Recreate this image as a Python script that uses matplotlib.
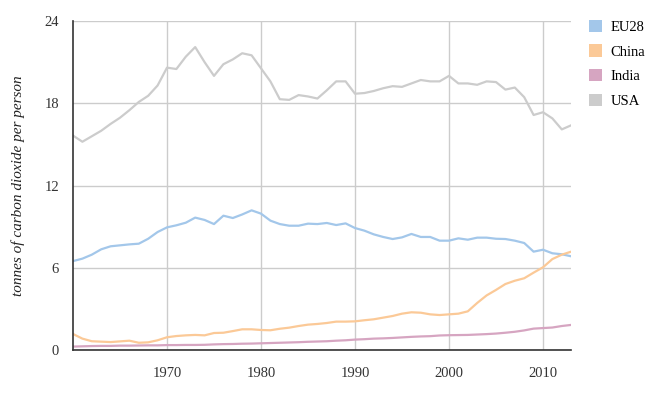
import numpy as np
import matplotlib
matplotlib.use("Agg")
import matplotlib.pyplot as plt
from matplotlib.patches import Patch

years = np.arange(1960, 2014)

eu28 = [6.5, 6.68, 6.97, 7.36, 7.58, 7.65, 7.72, 7.77, 8.13, 8.62,
        8.96, 9.11, 9.3, 9.67, 9.5, 9.2, 9.81, 9.64, 9.9, 10.2,
        9.96, 9.45, 9.2, 9.08, 9.08, 9.23, 9.2, 9.28, 9.13, 9.25,
        8.91, 8.72, 8.45, 8.26, 8.11, 8.23, 8.48, 8.26, 8.26, 7.99,
        7.99, 8.16, 8.06, 8.21, 8.21, 8.13, 8.11, 7.99, 7.82, 7.19,
        7.33, 7.07, 7.0, 6.85]

china = [1.19, 0.85, 0.66, 0.63, 0.6, 0.65, 0.7, 0.55, 0.58, 0.73,
         0.95, 1.04, 1.09, 1.12, 1.09, 1.26, 1.28, 1.4, 1.53, 1.53,
         1.48, 1.46, 1.57, 1.65, 1.77, 1.87, 1.92, 1.99, 2.09, 2.09,
         2.11, 2.19, 2.26, 2.38, 2.5, 2.67, 2.77, 2.74, 2.62, 2.57,
         2.62, 2.67, 2.84, 3.45, 4.0, 4.4, 4.83, 5.07, 5.25, 5.66,
         6.05, 6.65, 6.97, 7.19]

india = [0.27, 0.29, 0.31, 0.32, 0.32, 0.34, 0.34, 0.35, 0.36, 0.36,
         0.38, 0.38, 0.39, 0.39, 0.40, 0.43, 0.45, 0.46, 0.48, 0.49,
         0.51, 0.53, 0.55, 0.57, 0.59, 0.62, 0.64, 0.66, 0.70, 0.73,
         0.78, 0.81, 0.85, 0.87, 0.90, 0.94, 0.98, 1.01, 1.03, 1.08,
         1.10, 1.11, 1.12, 1.15, 1.18, 1.22, 1.28, 1.35, 1.45, 1.58,
         1.62, 1.66, 1.77, 1.85]

usa = [15.65, 15.2, 15.6, 16.0, 16.5, 16.95, 17.5, 18.1, 18.55, 19.3,
       20.6, 20.5, 21.4, 22.1, 21.0, 20.0, 20.85, 21.2, 21.65, 21.5,
       20.55, 19.6, 18.3, 18.25, 18.6, 18.5, 18.35, 18.95, 19.6, 19.6,
       18.7, 18.75, 18.9, 19.1, 19.25, 19.2, 19.45, 19.7, 19.6, 19.6,
       20.0, 19.45, 19.45, 19.35, 19.6, 19.55, 19.0, 19.15, 18.45, 17.15,
       17.35, 16.9, 16.1, 16.4]

series = [("EU28", eu28, "#a3c7ea"),
          ("China", china, "#fbc997"),
          ("India", india, "#d6a5c1"),
          ("USA", usa, "#cccccc")]

y_ticks = [0, 6, 12, 18, 24]
x_ticks = [1970, 1980, 1990, 2000, 2010]

plt.rcParams["font.family"] = ["Liberation Serif", "DejaVu Serif"]

fig = plt.figure(figsize=(6.58, 3.97), dpi=100)
ax = fig.add_axes([73 / 658, 46.7 / 397, 498.2 / 658, 329.3 / 397])

for name, vals, color in series:
    ax.plot(years, vals, color=color, lw=1.6, solid_joinstyle="round")

ax.set_xlim(1960, 2013)
ax.set_ylim(0, 24)
ax.set_yticks(y_ticks)
ax.set_xticks(x_ticks)
ax.grid(True, color="#cccccc", lw=1)
ax.set_axisbelow(True)
ax.tick_params(length=0, labelsize=10.5, colors="#333333")
ax.tick_params(axis="x", pad=12)
ax.tick_params(axis="y", pad=10)
for side in ["top", "right"]:
    ax.spines[side].set_visible(False)
for side in ["left", "bottom"]:
    ax.spines[side].set_color("#333333")
    ax.spines[side].set_linewidth(1.2)

ax.set_ylabel("tonnes of carbon dioxide per person", fontstyle="italic",
              fontsize=11, color="#222222", labelpad=14)

handles = [Patch(facecolor=c, edgecolor="none") for _, _, c in series]
fig.legend(handles, [n for n, _, _ in series], loc="upper left",
           bbox_to_anchor=(583 / 658, 1 - 14 / 397), frameon=False,
           fontsize=10.5, handlelength=0.9, handleheight=0.9,
           handletextpad=0.6, labelspacing=0.72, borderaxespad=0)

fig.savefig("out.png", dpi=100)
